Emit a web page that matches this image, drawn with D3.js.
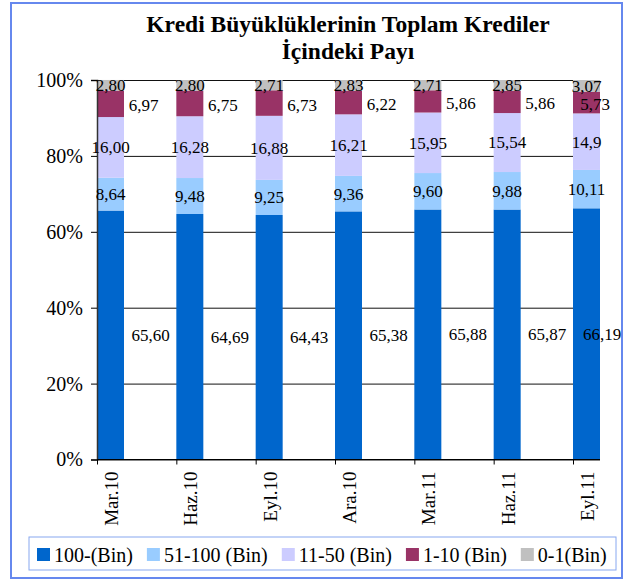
<!DOCTYPE html>
<html>
<head>
<meta charset="utf-8">
<script src="https://cdn.jsdelivr.net/npm/d3@7"></script>
<style>
  body { margin: 0; background: #fff; }
  svg, text { font-family: "Liberation Serif", "Times New Roman", serif; fill: #000; }
</style>
</head>
<body>
<div id="chart"></div>
<script>
// values as printed on the chart (Turkish decimal comma)
const categories = ['Mar.10', 'Haz.10', 'Eyl.10', 'Ara.10', 'Mar.11', 'Haz.11', 'Eyl.11'];
const seriesNames = ['100-(Bin)', '51-100 (Bin)', '11-50 (Bin)', '1-10 (Bin)', '0-1(Bin)'];
const big = ['65,60', '64,69', '64,43', '65,38', '65,88', '65,87', '66,19'];
const mid = ['8,64', '9,48', '9,25', '9,36', '9,60', '9,88', '10,11'];
const small = ['16,00', '16,28', '16,88', '16,21', '15,95', '15,54', '14,9'];
const tiny = ['6,97', '6,75', '6,73', '6,22', '5,86', '5,86', '5,73'];
const micro = ['2,80', '2,80', '2,71', '2,83', '2,71', '2,85', '3,07'];
const yTicks = [0, 0.2, 0.4, 0.6, 0.8, 1];

const colors = ['#0066cc', '#99ccff', '#ccccff', '#993366', '#c0c0c0'];
const parse = (s) => +s.replace(',', '.');
const serif = '"Liberation Serif", "Times New Roman", serif';

const width = 643;
const height = 581;
const plotLeft = 97;
const barW = 27;
const plotTop = 80;
const plotBottom = 459.5;

const svg = d3.select('#chart')
              .append('svg')
              .attr('width', width)
              .attr('height', height)
              .style('font-family', serif);

// outer frame
svg.append('rect')
   .attr('x', 11).attr('y', 3)
   .attr('width', 611).attr('height', 575)
   .attr('fill', 'none')
   .attr('stroke', '#6688ee')
   .attr('stroke-width', 2);

// title
svg.append('text')
   .attr('x', 348).attr('y', 32)
   .attr('text-anchor', 'middle')
   .style('font-size', '23.5px')
   .style('font-weight', 'bold')
   .text('Kredi Büyüklüklerinin Toplam Krediler');
svg.append('text')
   .attr('x', 348).attr('y', 59)
   .attr('text-anchor', 'middle')
   .style('font-size', '23.5px')
   .style('font-weight', 'bold')
   .text('İçindeki Payı');

const x = d3.scalePoint()
            .domain(categories)
            .range([plotLeft, 573]);
const plotRight = x(categories[categories.length - 1]) + barW;
const y = d3.scaleLinear()
            .domain([0, 1])
            .range([plotBottom, plotTop]);

// stack rows
const raw = [big, mid, small, tiny, micro];
const rows = categories.map((c, i) => {
  const r = { cat: c };
  seriesNames.forEach((s, k) => { r[s] = parse(raw[k][i]) / 100; });
  return r;
});
const stacked = d3.stack().keys(seriesNames)(rows);

// grid
svg.append('g')
   .attr('transform', `translate(${plotLeft},0)`)
   .call(d3.axisLeft(y).tickValues(yTicks).tickSize(-(plotRight - plotLeft)).tickFormat(() => ''))
   .call((g) => g.select('.domain').remove())
   .call((g) => g.selectAll('line').attr('stroke', '#111').attr('stroke-width', 1));

// bars
svg.append('g')
   .selectAll('g')
   .data(stacked)
   .join('g')
   .attr('fill', (d, k) => colors[k])
   .selectAll('rect')
   .data((d) => d)
   .join('rect')
   .attr('x', (d) => x(d.data.cat))
   .attr('width', barW)
   .attr('y', (d) => y(d[1]))
   .attr('height', (d) => y(d[0]) - y(d[1]));

// y axis
const yAxis = svg.append('g')
   .attr('transform', `translate(${plotLeft},0)`)
   .call(d3.axisLeft(y).tickValues(yTicks).tickSize(6).tickPadding(8).tickFormat(d3.format('.0%')));
yAxis.attr('font-family', null);
yAxis.select('.domain').attr('stroke', '#333').attr('stroke-width', 1.5);
yAxis.selectAll('line').attr('stroke', '#000');
yAxis.selectAll('text')
     .style('font-size', '20px')
     .style('font-family', serif);

// x axis: ticks sit at the left edge of each bar
const xAxis = svg.append('g')
   .attr('transform', `translate(0,${plotBottom})`)
   .call(d3.axisBottom(x).tickSize(5).tickFormat(''));
xAxis.select('.domain').attr('d', `M${plotLeft},0H${plotRight}`).attr('stroke', '#000');
xAxis.selectAll('line').attr('stroke', '#000');

svg.append('g')
   .selectAll('text')
   .data(categories)
   .join('text')
   .attr('transform', (d) => `translate(${x(d) + barW / 2 + 1},${plotBottom + 12}) rotate(-90)`)
   .attr('text-anchor', 'end')
   .attr('dy', '0.35em')
   .style('font-size', '19px')
   .text((d) => d);

// data labels
const shift = [40, 0, 0, 33, 0];
const lift = [0, 0, 0, 1.5, 0];
const maxX = [plotRight + 2, plotRight, plotRight, plotRight - 5, plotRight];
stacked.forEach((layer, k) => {
  svg.append('g')
     .selectAll('text')
     .data(layer)
     .join('text')
     .attr('x', (d) => Math.min(x(d.data.cat) + barW / 2 + shift[k], maxX[k]))
     .attr('y', (d) => y((d[0] + d[1]) / 2) + lift[k])
     .attr('dy', '0.35em')
     .attr('text-anchor', 'middle')
     .style('font-size', '17px')
     .text((d, i) => raw[k][i]);
});

// legend
const legend = svg.append('g');
legend.append('rect')
      .attr('x', 29).attr('y', 537)
      .attr('width', 587).attr('height', 33)
      .attr('fill', '#fff')
      .attr('stroke', '#88a8f0')
      .attr('stroke-width', 1);
let lx = 37;
seriesNames.forEach((s, k) => {
  legend.append('rect')
        .attr('x', lx).attr('y', 548)
        .attr('width', 13).attr('height', 13)
        .attr('fill', colors[k]);
  const t = legend.append('text')
        .attr('x', lx + 17).attr('y', 555)
        .attr('dy', '0.35em')
        .style('font-size', '20px')
        .text(s);
  lx += 17 + t.node().getComputedTextLength() + 14;
});
</script>
</body>
</html>
